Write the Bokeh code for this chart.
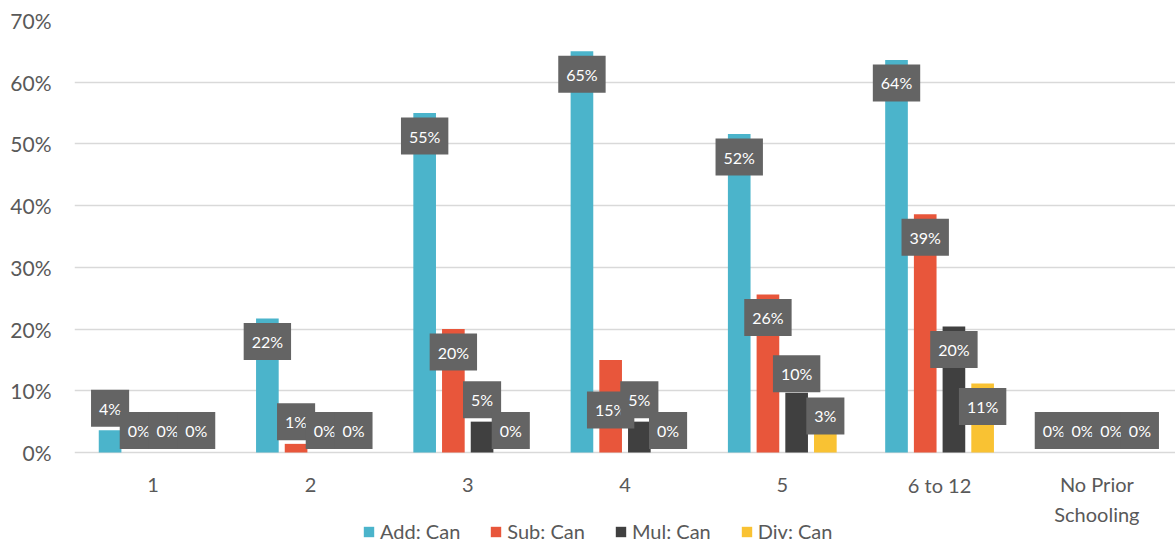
from bokeh.plotting import figure
from bokeh.models import (FactorRange, Range1d, ColumnDataSource, Legend,
                          LegendItem, NumeralTickFormatter, FixedTicker)
from bokeh.transform import dodge
from bokeh.core.properties import value
from bokeh.embed import file_html
from bokeh.resources import INLINE

# Share of pupils who can do each operation, by years of prior schooling
grades = ["1", "2", "3", "4", "5", "6 to 12", "No Prior Schooling"]
grade_labels = ["1", "2", "3", "4", "5", "6 to 12", "No Prior\nSchooling"]
series_names = ["Add: Can", "Sub: Can", "Mul: Can", "Div: Can"]
add_can = [0.036, 0.217, 0.550, 0.650, 0.516, 0.636, 0.0]
sub_can = [0.0, 0.014, 0.200, 0.150, 0.256, 0.386, 0.0]
mul_can = [0.0, 0.0, 0.050, 0.050, 0.097, 0.204, 0.0]
div_can = [0.0, 0.0, 0.0, 0.0, 0.030, 0.112, 0.0]
y_ticks = [0.0, 0.1, 0.2, 0.3, 0.4, 0.5, 0.6, 0.7]

series_values = [add_can, sub_can, mul_can, div_can]
colors = ["#4BB4CB", "#E8563B", "#404040", "#F9C233"]
FONT = "Lato"
TEXT_GREY = "#595959"

# plot frame: 0..70% spans 432 px; the 91 px strip under the zero line
# holds the category names and the legend
FRAME_H, STRIP_H = 432, 91
y_min = -0.7 * STRIP_H / FRAME_H

p = figure(x_range=FactorRange(*grades, range_padding=0),
           y_range=Range1d(y_min, 0.7),
           width=1175, height=543, output_backend="svg", toolbar_location=None,
           x_axis_location=None,
           min_border_left=74, min_border_right=0, min_border_top=20,
           min_border_bottom=0)
p.outline_line_color = None
p.background_fill_color = "white"

p.xgrid.grid_line_color = None
p.ygrid.grid_line_color = "#D9D9D9"
p.ygrid.grid_line_width = 1.5
p.ygrid.ticker = FixedTicker(ticks=y_ticks)

p.yaxis.ticker = FixedTicker(ticks=y_ticks)
p.yaxis.formatter = NumeralTickFormatter(format="0%")
p.yaxis.axis_line_color = None
p.yaxis.major_tick_line_color = None
p.yaxis.minor_tick_line_color = None
p.yaxis.major_label_text_font = FONT
p.yaxis.major_label_text_font_size = "21px"
p.yaxis.major_label_text_color = TEXT_GREY
p.yaxis.major_label_standoff = 17

# category names under the zero line (two-line names drop by half a line)
name_off = [32 + 14.5 * name.count("\n") for name in grade_labels]
cat_src = ColumnDataSource(dict(grade=grades, name=grade_labels,
                                base=[0.0] * len(grades), off=name_off))
p.text(x="grade", y="base", text="name", source=cat_src, y_offset="off",
       text_align="center", text_baseline="middle", text_color=TEXT_GREY,
       text_font=value(FONT), text_font_size="20px", text_line_height=1.22)

pitch = 0.1825
offsets = [(-1.5 + i) * pitch for i in range(4)]

# per-label vertical nudges (pixels) where a label sits off its usual spot
nudges = {(1, 3): 27, (2, 4): 3, (3, 4): 4}

renderers = []
label_sources = []
for si, (name, vals) in enumerate(zip(series_names, series_values)):
    yoff = []
    for gi, v in enumerate(vals):
        base = 23 if v >= 0.11 else -22
        yoff.append(base + nudges.get((si, gi), 0))
    src = ColumnDataSource(dict(
        grade=grades, val=vals,
        label=[f"{round(v * 100)}%" for v in vals],
        yoff=yoff))
    r = p.vbar(x=dodge("grade", offsets[si], range=p.x_range), top="val",
               width=0.144, source=src, fill_color=colors[si],
               line_color=None)
    renderers.append(r)
    label_sources.append(src)

for si, src in enumerate(label_sources):
    p.text(x=dodge("grade", offsets[si], range=p.x_range), y="val",
           text="label", y_offset="yoff", source=src,
           text_align="center", text_baseline="middle",
           text_color="white", text_font=value(FONT), text_font_size="16px",
           background_fill_color="#646464", padding=(8, 9))

legend = Legend(items=[LegendItem(label=n, renderers=[r])
                       for n, r in zip(series_names, renderers)],
                orientation="horizontal", location=(288, 0),
                glyph_width=13, glyph_height=13, label_standoff=5,
                spacing=29, padding=0, margin=0,
                label_text_font=FONT, label_text_font_size="20px",
                label_text_color=TEXT_GREY, border_line_color=None,
                background_fill_alpha=0)
p.add_layout(legend, "center")

open("out.html", "w").write(file_html(p, INLINE))
